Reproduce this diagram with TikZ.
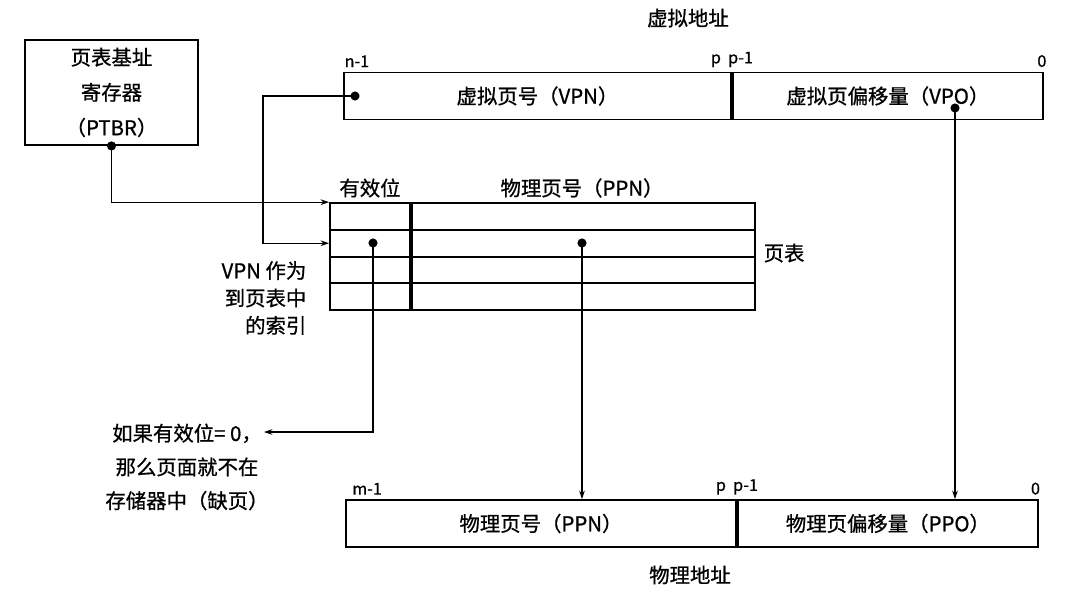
\documentclass[tikz,border=0pt]{standalone}
\usepackage{fontspec}
\setmainfont{Noto Sans CJK SC}[FakeBold=0.8]
\usetikzlibrary{arrows.meta, positioning}
\tikzset{
  field/.style={rectangle, draw, line width=1.3pt, minimum height=1.175cm,
                inner sep=0pt, font=\fontsize{14.5}{17}\selectfont},
  cell/.style={rectangle, draw, line width=1.3pt, minimum height=0.67cm, inner sep=0pt},
  dot/.style={circle, fill, inner sep=0pt, minimum size=6.5pt},
  arr/.style={-{Stealth[length=6pt, width=4pt]}, line width=0.75pt},
  bitlbl/.style={font=\fontsize{11.5}{12}\selectfont, inner sep=1pt},
  lbl/.style={font=\fontsize{14.5}{18}\selectfont, align=center, inner sep=1pt},
}

\begin{document}
\begin{tikzpicture}[x=0.025cm, y=-0.025cm]
  \useasboundingbox (0,0) rectangle (1071,597);

  % virtual address
  \node[lbl] (vatitle) at (688,18) {虚拟地址};
  \node[field, minimum width=9.675cm, anchor=west] (vpn) at (343,96) {虚拟页号（VPN）};
  \node[field, minimum width=7.75cm, anchor=west] (vpo) at (vpn.east) {虚拟页偏移量（VPO）};
  \node[bitlbl, anchor=south west] (vhi) at ([yshift=2pt]vpn.north west) {n-1};
  \node[bitlbl, anchor=south] (vmid) at ([yshift=2pt]vpn.north east) {p\ \ p-1};
  \node[bitlbl, anchor=south east] (vlo) at ([yshift=2pt,xshift=3pt]vpo.north east) {0};
  \node[dot] (vpndot) at (355,96) {};
  \node[dot] (vpodot) at (955,108) {};

  % page table base register
  \node[field, lbl, minimum width=4.325cm, minimum height=2.625cm,
        font=\fontsize{14.5}{25}\selectfont] (ptbr) at (111.5,92.5) {页表基址\\寄存器\\（PTBR）};
  \node[dot] (ptbrdot) at (ptbr.south) {};

  % page table
  \foreach \i/\y in {1/216.5, 2/243.25, 3/270, 4/296.75} {
    \node[cell, minimum width=2cm] (v\i) at (370,\y) {};
    \node[cell, minimum width=8.575cm, anchor=west] (p\i) at (v\i.east) {};
  }
  \node[lbl] (vhdr) at (370,188) {有效位};
  \node[lbl] (phdr) at (582,188) {物理页号（PPN）};
  \node[lbl, anchor=west] (ptlbl) at (762,253) {页表};
  \node[lbl, align=right, anchor=east, font=\fontsize{14.5}{19.5}\selectfont] (idx) at (308,298)
       {VPN 作为\\到页表中\\的索引};
  \node[dot] (vdot) at (373,243) {};
  \node[dot] (pdot) at (582,243) {};

  % page fault note
  \node[lbl, font=\fontsize{14.5}{24}\selectfont] (miss) at (187,467)
       {如果有效位= 0，\\那么页面就不在\\存储器中（缺页）};
  \coordinate (missin) at (264,432);

  % physical address
  \node[field, minimum width=9.75cm, anchor=west] (ppn) at (345,523.5) {物理页号（PPN）};
  \node[field, minimum width=7.5cm, anchor=west] (ppo) at (ppn.east) {物理页偏移量（PPO）};
  \node[bitlbl, anchor=south west] (phi) at ([yshift=2pt,xshift=4pt]ppn.north west) {m-1};
  \node[bitlbl, anchor=south] (pmid) at ([yshift=2pt]ppn.north east) {p\ \ p-1};
  \node[bitlbl, anchor=south east] (plo) at ([yshift=2pt,xshift=2pt]ppo.north east) {0};
  \node[lbl] (patitle) at (690,575) {物理地址};

  % connectors
  \coordinate (turn) at (263,96);
  \draw[arr] (ptbrdot.center) |- (v1.north west);
  \draw[arr] (vpndot.center) -- (turn) |- (v2.west);
  \draw[arr] (vdot.center) |- (missin);
  \draw[arr] (pdot.center) -- (pdot |- ppn.north);
  \draw[arr] (vpodot.center) -- (vpodot |- ppo.north);
\end{tikzpicture}
\end{document}
